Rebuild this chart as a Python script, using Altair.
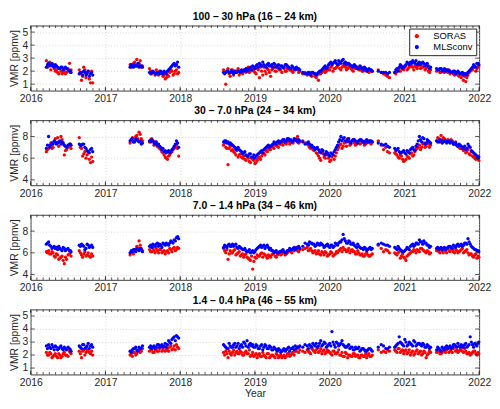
import altair as alt
import pandas as pd

# ---------------- data (decimal years, ppmv) ----------------
# first set of readings
seg1 = [2016.21, 2016.24, 2016.27, 2016.30, 2016.33, 2016.36, 2016.39, 2016.42, 2016.45, 2016.48, 2016.52, 2016.54]
seg2 = [2016.65, 2016.68, 2016.71, 2016.74, 2016.77, 2016.80, 2016.83]
seg3 = [2017.33, 2017.36, 2017.39, 2017.42, 2017.45, 2017.48]
seg4 = [2017.59, 2017.62, 2017.65, 2017.68, 2017.71, 2017.74, 2017.77, 2017.80, 2017.83, 2017.86, 2017.89, 2017.92, 2017.95, 2017.98]
seg5 = [2018.58, 2018.61, 2018.64, 2018.67, 2018.70, 2018.73, 2018.76, 2018.79, 2018.82, 2018.85, 2018.88, 2018.91, 2018.94, 2018.97,
        2019.00, 2019.03, 2019.06, 2019.09, 2019.12, 2019.15, 2019.18, 2019.21, 2019.24, 2019.27, 2019.30, 2019.33, 2019.36, 2019.39,
        2019.42, 2019.45, 2019.48, 2019.51, 2019.54, 2019.57, 2019.60]
seg6 = [2019.64, 2019.70, 2019.73, 2019.76, 2019.79, 2019.82, 2019.85, 2019.88, 2019.91, 2019.94, 2019.97,
        2020.00, 2020.03, 2020.06, 2020.09, 2020.12, 2020.15, 2020.18, 2020.21, 2020.24, 2020.27, 2020.30, 2020.33, 2020.36,
        2020.39, 2020.42, 2020.45, 2020.48, 2020.51, 2020.54, 2020.57]
seg7 = [2020.65, 2020.72, 2020.75, 2020.80]
seg8 = [2020.87, 2020.90, 2020.93, 2020.96, 2020.99, 2021.02, 2021.05, 2021.08, 2021.11, 2021.14, 2021.17, 2021.20,
        2021.23, 2021.26, 2021.29, 2021.32, 2021.35]
seg9 = [2021.43, 2021.46, 2021.49, 2021.52, 2021.55, 2021.58, 2021.61, 2021.64, 2021.67, 2021.70, 2021.73, 2021.76,
        2021.79, 2021.82, 2021.85, 2021.88, 2021.91, 2021.94, 2021.97, 2021.995]
years_a = seg1 + seg2 + seg3 + seg4 + seg5 + seg6 + seg7 + seg8 + seg9

# second set of readings (in between)
segb1 = [2016.225, 2016.255, 2016.285, 2016.315, 2016.345, 2016.375, 2016.405, 2016.435, 2016.465, 2016.50, 2016.53]
segb2 = [2016.665, 2016.695, 2016.725, 2016.755, 2016.785, 2016.815]
segb3 = [2017.345, 2017.375, 2017.405, 2017.435, 2017.465, 2017.495]
segb4 = [2017.605, 2017.635, 2017.665, 2017.695, 2017.725, 2017.755, 2017.785, 2017.815, 2017.845, 2017.875, 2017.905, 2017.935, 2017.965]
segb5 = [2018.595, 2018.625, 2018.655, 2018.685, 2018.715, 2018.745, 2018.775, 2018.805, 2018.835, 2018.865, 2018.895, 2018.925, 2018.955, 2018.985,
         2019.015, 2019.045, 2019.075, 2019.105, 2019.135, 2019.165, 2019.195, 2019.225, 2019.255, 2019.285, 2019.315, 2019.345,
         2019.375, 2019.405, 2019.435, 2019.465, 2019.495, 2019.525, 2019.555, 2019.585]
segb6 = [2019.67, 2019.715, 2019.745, 2019.775, 2019.805, 2019.835, 2019.865, 2019.895, 2019.925, 2019.955, 2019.985,
         2020.015, 2020.045, 2020.075, 2020.105, 2020.135, 2020.165, 2020.195, 2020.225, 2020.255, 2020.285, 2020.315, 2020.345,
         2020.375, 2020.405, 2020.435, 2020.465, 2020.495, 2020.525, 2020.555]
segb7 = [2020.69, 2020.775]
segb8 = [2020.885, 2020.915, 2020.945, 2020.975, 2021.005, 2021.035, 2021.065, 2021.095, 2021.125, 2021.155, 2021.185, 2021.215,
         2021.245, 2021.275, 2021.305, 2021.335]
segb9 = [2021.445, 2021.475, 2021.505, 2021.535, 2021.565, 2021.595, 2021.625, 2021.655, 2021.685, 2021.715, 2021.745, 2021.775,
         2021.805, 2021.835, 2021.865, 2021.895, 2021.925, 2021.955, 2021.985]
years_b = segb1 + segb2 + segb3 + segb4 + segb5 + segb6 + segb7 + segb8 + segb9

# ---- Panel 1: 100 - 30 hPa
p1_mls_a = ([2.3, 2.6, 2.5, 2.4, 2.5, 2.3, 2.2, 2.3, 2.2, 2.2, 2.0, 1.9]
            + [1.8, 1.9, 2.0, 1.7, 2.0, 1.8, 1.7]
            + [2.3, 2.4, 2.5, 2.4, 2.3, 2.4]
            + [1.9, 1.9, 1.9, 1.8, 1.9, 2.0, 1.8, 1.9, 2.0, 2.2, 2.4, 2.6, 2.5, 2.3]
            + [1.9, 1.9, 2.0, 1.9, 1.9, 2.0, 1.9, 2.0, 2.1, 2.0, 2.2, 2.1, 2.3, 2.4, 2.2, 2.5, 2.6, 2.4, 2.5, 2.3,
               2.6, 2.4, 2.3, 2.5, 2.4, 2.2, 2.4, 2.3, 2.5, 2.3, 2.2, 2.3, 2.1, 2.2, 2.1]
            + [1.9, 1.8, 1.8, 1.9, 1.8, 1.7, 1.9, 2.0, 2.2, 2.4, 2.3, 2.6, 2.5, 2.7, 2.6, 2.8, 2.6, 2.9, 2.7, 2.6,
               2.5, 2.4, 2.5, 2.3, 2.2, 2.3, 2.1, 2.2, 2.1, 2.1, 2.0]
            + [2.0, 1.9, 1.9, 1.9]
            + [1.9, 2.2, 2.3, 2.4, 2.3, 2.5, 2.6, 2.7, 2.8, 2.6, 2.5, 2.7, 2.6, 2.6, 2.5, 2.4, 2.3]
            + [2.2, 2.1, 2.2, 2.1, 2.0, 2.1, 2.0, 1.9, 2.0, 1.9, 1.9, 1.8, 1.7, 1.8, 1.9, 2.1, 2.3, 2.4, 2.6, 2.5])
p1_mls_b = ([2.5, 2.4, 2.6, 2.3, 2.4, 2.2, 2.3, 2.1, 2.3, 2.1, 2.0]
            + [1.9, 1.7, 1.9, 1.8, 1.6, 1.9]
            + [2.5, 2.3, 2.4, 2.6, 2.4, 2.3]
            + [1.8, 2.0, 1.8, 1.9, 1.8, 1.9, 2.0, 1.8, 2.1, 2.3, 2.5, 2.4, 2.7]
            + [1.8, 2.0, 1.9, 2.0, 1.8, 1.9, 2.0, 1.9, 2.0, 2.1, 2.0, 2.2, 2.1, 2.3,
               2.4, 2.3, 2.5, 2.7, 2.4, 2.5, 2.4, 2.5, 2.6, 2.3, 2.5, 2.4, 2.3, 2.5, 2.4, 2.2, 2.4, 2.2, 2.3, 2.2]
            + [1.8, 1.9, 1.7, 1.9, 1.8, 1.8, 2.0, 2.1, 2.3, 2.2, 2.5,
               2.7, 2.6, 2.8, 2.5, 2.7, 2.8, 2.6, 2.5, 2.6, 2.4, 2.3, 2.4, 2.2, 2.4, 2.2, 2.3, 2.0, 2.2, 2.1]
            + [1.9, 1.8]
            + [2.1, 2.0, 2.5, 2.2, 2.4, 2.7, 2.5, 2.6, 2.7, 2.8, 2.6, 2.5, 2.7, 2.4, 2.6, 2.2]
            + [2.1, 2.2, 2.0, 2.2, 2.1, 2.0, 1.9, 2.0, 1.8, 2.0, 1.8, 1.9, 1.8, 1.7, 2.0, 2.2, 2.5, 2.3, 2.6])
p1_soras_a = ([2.8, 2.6, 2.1, 2.5, 2.0, 1.9, 2.2, 1.8, 2.0, 1.9, 2.6, 2.1]
              + [2.1, 1.3, 2.3, 1.5, 2.0, 1.1, 1.1]
              + [2.5, 2.4, 2.7, 2.9, 2.6, 2.3]
              + [2.2, 1.8, 1.9, 2.1, 1.7, 1.9, 1.6, 1.4, 1.7, 1.9, 2.0, 1.8, 2.1, 1.9]
              + [2.1, 1.0, 2.2, 1.6, 2.1, 1.9, 2.0, 1.7, 2.0, 2.1, 1.9, 2.3, 2.0, 2.1, 1.9, 2.2, 1.5, 2.0, 2.3, 1.8,
                 2.1, 1.6, 2.2, 2.0, 2.3, 2.1, 1.9, 2.2, 2.0, 2.3, 2.1, 1.9, 2.2, 2.1, 2.0]
              + [1.8, 1.7, 1.9, 1.6, 1.8, 1.5, 1.3, 1.8, 2.0, 1.9, 2.2, 2.1, 2.4, 2.2, 2.3, 2.5, 2.1, 2.4, 2.3, 2.2,
                 2.4, 2.1, 2.3, 2.2, 2.1, 2.3, 2.0, 2.2, 2.0, 2.1, 2.0]
              + [2.1, 1.8, 1.7, 1.5]
              + [1.9, 2.0, 2.2, 2.3, 2.1, 2.4, 2.2, 2.5, 2.3, 2.4, 2.2, 2.5, 2.3, 2.4, 2.2, 2.0, 2.1]
              + [2.0, 2.1, 1.9, 2.0, 2.1, 1.9, 1.8, 1.9, 1.7, 1.8, 1.6, 1.5, 1.3, 1.2, 1.7, 2.0, 2.1, 2.3, 2.2, 2.4])
p1_soras_b = ([2.3, 2.7, 2.4, 2.2, 2.1, 1.8, 2.0, 1.9, 1.8, 2.2, 1.9]
              + [1.8, 1.6, 2.1, 1.9, 1.4, 2.0]
              + [2.3, 2.6, 2.4, 2.5, 2.8, 2.4]
              + [2.0, 1.9, 1.7, 1.8, 2.0, 1.8, 1.7, 1.5, 1.6, 2.1, 1.7, 2.0, 1.8]
              + [1.9, 2.0, 1.8, 2.1, 1.7, 2.0, 2.2, 1.9, 1.8, 2.0, 2.2, 1.9, 2.1, 2.0,
                 1.8, 2.1, 2.3, 1.7, 2.0, 2.2, 1.9, 2.1, 2.3, 2.0, 2.2, 2.1, 2.3, 2.0, 2.2, 2.1, 2.0, 2.1, 2.2, 1.9]
              + [1.9, 1.8, 1.7, 1.9, 1.6, 1.7, 1.8, 1.9, 2.1, 2.0, 2.1,
                 2.3, 2.0, 2.2, 2.4, 2.2, 2.3, 2.5, 2.1, 2.3, 2.2, 2.0, 2.2, 2.3, 2.1, 2.0, 2.2, 2.1, 1.9, 2.0]
              + [1.9, 1.6]
              + [1.8, 2.1, 2.0, 2.2, 2.3, 2.1, 2.3, 2.4, 2.1, 2.3, 2.4, 2.2, 2.3, 2.1, 2.3, 1.9]
              + [2.1, 1.9, 2.0, 1.9, 2.0, 2.1, 1.9, 1.8, 1.9, 1.7, 1.8, 1.7, 1.6, 1.5, 1.9, 2.1, 2.3, 2.0, 2.3])

# ---- Panel 2: 30 - 7.0 hPa
p2_mls_a = ([6.9, 8.0, 7.2, 7.3, 7.5, 7.4, 7.6, 7.5, 7.2, 7.0, 7.3, 7.2]
            + [7.3, 7.2, 7.3, 6.9, 6.6, 6.8, 6.6]
            + [7.6, 7.8, 7.5, 7.7, 7.5, 7.3]
            + [7.6, 7.7, 7.4, 7.5, 7.3, 7.0, 6.9, 6.7, 6.6, 6.5, 6.8, 7.1, 7.6, 7.0]
            + [7.5, 7.6, 7.5, 7.4, 7.2, 7.0, 6.9, 6.8, 6.6, 6.5, 6.3, 6.2, 6.4, 6.1, 6.0, 6.3, 6.5, 6.7, 6.8, 7.0,
               7.2, 7.1, 7.3, 7.4, 7.5, 7.4, 7.6, 7.7, 7.6, 7.8, 7.7, 7.6, 7.7, 7.5, 7.6]
            + [7.5, 7.4, 7.3, 7.2, 7.0, 6.9, 6.8, 6.5, 6.7, 6.3, 6.5, 6.2, 6.4, 6.6, 7.0, 7.5, 8.0, 7.8, 7.6, 7.7,
               7.5, 7.6, 7.7, 7.5, 7.6, 7.7, 7.5, 7.6, 7.5, 7.6, 7.5]
            + [7.4, 7.2, 7.3, 7.0]
            + [6.9, 6.8, 6.6, 6.5, 6.7, 6.4, 6.6, 6.8, 7.0, 6.7, 7.3, 8.0, 7.5, 7.8, 7.4, 7.6, 7.4]
            + [7.6, 7.5, 7.6, 7.5, 7.6, 7.5, 7.4, 7.5, 7.3, 7.2, 7.3, 7.1, 7.0, 6.8, 7.3, 7.0, 6.6, 6.4, 6.2, 6.1])
p2_mls_b = ([7.2, 7.0, 7.4, 7.6, 7.3, 7.5, 7.3, 7.4, 7.1, 7.2, 7.3]
            + [7.2, 7.3, 7.0, 6.7, 6.5, 6.9]
            + [7.7, 7.5, 7.8, 7.6, 7.6, 7.4]
            + [7.5, 7.6, 7.3, 7.2, 7.1, 6.8, 6.6, 6.5, 6.7, 6.6, 6.9, 7.3, 7.4]
            + [7.6, 7.4, 7.3, 7.3, 7.1, 6.8, 7.0, 6.7, 6.4, 6.6, 6.2, 6.4, 6.1, 6.3,
               6.2, 6.4, 6.6, 6.5, 6.9, 7.1, 7.0, 7.2, 7.5, 7.3, 7.6, 7.5, 7.7, 7.5, 7.8, 7.6, 7.5, 7.8, 7.6, 7.7]
            + [7.3, 7.5, 7.1, 7.0, 6.8, 7.0, 6.6, 6.8, 6.4, 6.6, 6.3,
               6.5, 6.3, 6.8, 7.2, 7.7, 7.6, 7.9, 7.5, 7.8, 7.4, 7.7, 7.6, 7.4, 7.7, 7.6, 7.4, 7.7, 7.5, 7.6]
            + [7.3, 7.1]
            + [6.7, 6.9, 6.5, 6.6, 6.5, 6.7, 6.5, 6.9, 6.8, 7.1, 7.6, 7.7, 7.9, 7.3, 7.7, 7.5]
            + [7.5, 7.7, 7.4, 7.6, 7.4, 7.6, 7.5, 7.3, 7.4, 7.1, 7.2, 6.9, 7.1, 6.9, 7.1, 6.7, 6.5, 6.3, 6.0])
p2_soras_a = ([6.6, 6.9, 7.4, 7.0, 7.8, 7.9, 7.5, 7.7, 6.3, 6.8, 7.1, 6.9]
              + [7.9, 6.9, 6.4, 6.0, 6.5, 5.6, 5.7]
              + [7.4, 7.9, 7.6, 8.1, 8.4, 7.8]
              + [7.5, 7.8, 7.2, 7.4, 7.0, 6.8, 6.5, 6.1, 5.9, 6.3, 6.6, 6.9, 7.2, 6.2]
              + [7.2, 7.0, 5.4, 7.1, 6.8, 6.5, 6.7, 6.3, 6.1, 6.2, 5.8, 6.0, 5.6, 5.9, 5.5, 5.8, 6.1, 6.2, 6.5, 6.7,
                 6.9, 6.8, 7.0, 7.2, 7.1, 7.3, 7.4, 7.5, 7.3, 7.6, 7.5, 7.4, 7.7, 8.0, 7.5]
              + [7.6, 7.3, 7.0, 7.1, 6.7, 6.5, 6.2, 5.8, 6.4, 6.0, 6.3, 5.7, 6.1, 5.9, 6.5, 7.0, 7.3, 7.1, 7.5, 7.8,
                 7.2, 7.6, 7.4, 7.3, 7.6, 7.4, 7.5, 7.3, 7.6, 7.4, 7.5]
              + [7.6, 6.8, 7.0, 6.5]
              + [6.5, 6.3, 6.0, 6.2, 5.7, 5.9, 6.1, 6.4, 6.2, 6.6, 6.9, 7.2, 7.0, 7.4, 7.1, 7.3, 7.2]
              + [7.6, 7.8, 8.1, 7.9, 7.6, 7.7, 7.5, 7.6, 7.4, 7.2, 7.0, 6.9, 6.7, 6.5, 6.8, 6.3, 6.2, 6.0, 6.1, 5.8])
p2_soras_b = ([6.8, 7.2, 6.9, 7.5, 7.4, 7.1, 8.0, 7.3, 6.7, 7.0, 7.3]
              + [7.0, 6.2, 6.6, 6.3, 5.9, 6.1]
              + [7.7, 7.5, 8.0, 7.8, 8.2, 7.6]
              + [7.7, 7.6, 7.5, 7.1, 6.9, 6.6, 6.3, 6.0, 6.2, 6.5, 6.8, 7.0, 6.9]
              + [7.4, 6.9, 6.9, 6.7, 6.6, 6.3, 6.1, 6.4, 6.0, 5.9, 6.2, 5.7, 6.0, 5.8,
                 5.6, 6.0, 5.9, 6.4, 6.3, 6.6, 6.8, 7.1, 6.9, 7.2, 7.0, 7.3, 7.2, 7.4, 7.5, 7.3, 7.5, 7.6, 7.8, 7.4]
              + [7.4, 7.2, 6.9, 6.8, 6.9, 6.4, 6.0, 6.6, 6.1, 6.4, 6.0,
                 5.8, 6.3, 6.2, 6.8, 7.2, 6.9, 7.4, 7.1, 7.5, 7.3, 7.7, 7.2, 7.5, 7.3, 7.5, 7.2, 7.4, 7.6, 7.3]
              + [7.2, 6.6]
              + [6.4, 6.1, 6.3, 5.9, 5.8, 6.2, 6.0, 6.5, 6.3, 6.8, 7.0, 6.8, 7.3, 7.0, 7.4, 7.0]
              + [7.9, 7.5, 7.7, 7.8, 7.5, 7.6, 7.7, 7.3, 7.5, 7.1, 6.9, 7.0, 6.8, 6.6, 6.4, 6.6, 6.1, 5.9, 6.2])

# ---- Panel 3: 7.0 - 1.4 hPa
p3_mls_a = ([6.8, 7.0, 6.6, 6.5, 6.4, 6.3, 6.4, 6.2, 6.4, 6.3, 6.2, 6.1]
            + [6.7, 6.8, 6.6, 6.4, 6.7, 6.6, 6.5]
            + [6.0, 6.1, 6.3, 6.4, 6.2, 6.3]
            + [6.6, 6.5, 6.7, 6.8, 6.6, 6.7, 6.9, 6.7, 6.8, 6.9, 7.0, 7.2, 7.4, 7.3]
            + [6.5, 6.6, 6.7, 6.6, 6.8, 6.7, 6.5, 6.6, 6.4, 6.3, 6.2, 6.1, 6.0, 6.2, 6.1, 6.4, 6.6, 6.5, 6.7, 6.6,
               6.5, 6.4, 6.2, 6.1, 6.0, 6.1, 6.2, 6.1, 6.0, 6.2, 6.3, 6.4, 6.3, 6.5, 6.4]
            + [6.6, 6.8, 7.0, 6.9, 6.8, 6.7, 6.8, 6.9, 6.7, 6.6, 6.8, 6.5, 6.7, 6.6, 6.8, 6.9, 7.0, 7.7, 7.1, 6.9,
               7.0, 6.8, 6.7, 6.5, 6.6, 6.4, 6.3, 6.4, 6.3, 6.5, 6.4]
            + [6.8, 6.8, 6.7, 6.6]
            + [6.5, 6.3, 6.4, 6.2, 6.1, 6.3, 6.4, 6.6, 6.8, 6.7, 6.9, 7.2, 7.0, 7.1, 6.9, 6.7, 6.6]
            + [6.4, 6.3, 6.5, 6.4, 6.3, 6.5, 6.6, 6.4, 6.6, 6.7, 6.6, 6.8, 6.7, 6.9, 7.3, 6.8, 6.5, 6.3, 6.2, 6.1])
p3_mls_b = ([6.9, 6.7, 6.4, 6.6, 6.5, 6.6, 6.3, 6.5, 6.2, 6.4, 6.2]
            + [6.6, 6.7, 6.3, 6.8, 6.5, 6.7]
            + [6.2, 6.3, 6.1, 6.3, 6.4, 6.1]
            + [6.7, 6.8, 6.6, 6.9, 6.8, 6.5, 6.8, 6.9, 6.7, 7.1, 6.9, 7.1, 7.5]
            + [6.7, 6.5, 6.8, 6.6, 6.6, 6.8, 6.4, 6.5, 6.3, 6.4, 6.1, 6.3, 6.1, 6.0,
               6.3, 6.5, 6.7, 6.6, 6.4, 6.7, 6.3, 6.2, 6.0, 6.2, 6.0, 6.1, 6.3, 6.0, 6.2, 6.4, 6.3, 6.5, 6.4, 6.6]
            + [6.9, 6.7, 6.9, 6.8, 6.6, 6.9, 6.7, 6.8, 6.5, 6.7, 6.6,
               6.7, 6.5, 6.9, 6.7, 7.0, 7.2, 7.3, 6.9, 7.1, 6.8, 6.9, 6.6, 6.8, 6.5, 6.4, 6.5, 6.2, 6.4, 6.3]
            + [6.9, 6.7]
            + [6.4, 6.6, 6.3, 6.1, 6.2, 6.5, 6.3, 6.7, 6.6, 6.9, 6.8, 7.0, 6.8, 6.9, 6.7, 6.5]
            + [6.5, 6.4, 6.3, 6.5, 6.4, 6.6, 6.5, 6.7, 6.5, 6.8, 6.7, 6.6, 6.9, 6.8, 7.0, 6.6, 6.4, 6.3, 6.2])
p3_soras_a = ([6.1, 6.2, 5.9, 6.0, 5.6, 5.8, 5.5, 5.7, 5.0, 5.4, 5.9, 5.7]
              + [6.2, 5.8, 5.9, 5.7, 6.0, 5.6, 5.7]
              + [5.8, 6.0, 6.3, 6.6, 7.1, 6.4]
              + [6.3, 6.1, 6.2, 6.4, 6.0, 6.3, 6.1, 5.9, 6.2, 6.4, 6.1, 6.5, 6.3, 6.4]
              + [6.4, 6.0, 5.4, 6.2, 6.0, 6.3, 5.9, 6.1, 5.8, 5.6, 5.9, 5.5, 5.3, 4.5, 5.6, 5.8, 5.7, 6.0, 5.9, 5.7,
                 5.8, 5.6, 5.9, 5.7, 5.8, 6.0, 5.9, 6.1, 5.9, 6.2, 6.1, 6.3, 6.4, 6.2, 6.3]
              + [6.3, 6.5, 6.3, 6.2, 6.1, 5.9, 6.2, 5.8, 6.0, 6.1, 5.7, 5.9, 6.0, 5.8, 6.1, 6.2, 6.4, 6.5, 6.3, 6.2,
                 6.0, 6.3, 6.1, 5.9, 6.0, 5.8, 5.7, 5.9, 5.8, 5.7, 5.9]
              + [6.7, 6.1, 6.3, 6.0]
              + [6.0, 5.8, 6.1, 5.7, 5.6, 5.3, 5.8, 6.0, 6.1, 6.2, 6.3, 6.1, 6.4, 6.2, 6.0, 6.1, 6.0]
              + [6.2, 6.1, 6.3, 6.0, 6.2, 6.4, 6.1, 6.3, 6.0, 6.2, 6.1, 6.3, 6.0, 6.2, 6.0, 5.9, 5.7, 5.8, 5.5, 5.6])
p3_soras_b = ([6.0, 5.9, 6.1, 5.7, 5.9, 5.4, 5.6, 5.3, 5.6, 5.8, 6.0]
              + [6.0, 5.6, 6.1, 5.8, 5.7, 5.9]
              + [6.1, 5.9, 6.2, 6.4, 6.7, 6.2]
              + [6.1, 6.4, 6.0, 6.2, 6.3, 6.0, 6.2, 6.1, 6.0, 6.3, 6.4, 6.2, 6.5]
              + [6.2, 6.3, 5.9, 6.0, 6.2, 5.8, 6.0, 5.7, 5.9, 5.8, 5.6, 5.4, 5.7, 5.2,
                 5.5, 5.7, 5.9, 5.6, 5.8, 5.5, 5.7, 5.8, 6.0, 5.6, 5.9, 5.8, 6.0, 5.8, 6.0, 6.2, 6.0, 6.2, 6.5, 6.1]
              + [6.4, 6.2, 6.4, 6.0, 6.2, 6.0, 5.9, 6.1, 5.8, 6.0, 5.8,
                 6.1, 5.7, 5.9, 6.0, 6.3, 6.1, 6.3, 6.1, 6.4, 6.2, 6.1, 5.9, 6.2, 5.8, 5.9, 5.7, 6.0, 5.7, 5.8]
              + [6.4, 6.2]
              + [5.9, 6.0, 5.5, 5.9, 5.5, 5.7, 5.9, 6.1, 6.3, 6.0, 6.2, 6.4, 6.3, 6.1, 6.2, 5.9]
              + [6.3, 6.0, 6.2, 6.3, 6.0, 6.2, 6.4, 6.1, 6.3, 6.0, 6.2, 6.4, 6.1, 6.3, 5.8, 5.9, 5.6, 5.9, 5.7])

# ---- Panel 4: 1.4 - 0.4 hPa
p4_mls_a = ([2.7, 2.8, 2.5, 2.6, 2.7, 2.4, 2.6, 2.5, 2.6, 2.4, 2.5, 2.3]
            + [2.7, 2.5, 2.8, 2.6, 2.9, 2.7, 2.6]
            + [2.3, 2.4, 2.5, 2.4, 2.6, 2.5]
            + [2.6, 2.5, 2.7, 2.6, 2.8, 2.7, 2.6, 2.9, 2.8, 3.0, 3.2, 3.4, 3.5, 3.3]
            + [2.8, 2.6, 2.5, 2.7, 2.6, 2.9, 2.7, 2.5, 2.8, 3.0, 2.7, 2.6, 2.9, 2.8, 2.6, 2.7, 2.5, 2.8, 2.6, 2.7,
               2.5, 2.6, 2.4, 2.5, 2.3, 2.4, 2.3, 2.5, 2.4, 2.6, 2.5, 2.6, 2.7, 2.6, 2.7]
            + [2.6, 2.7, 2.8, 2.6, 2.8, 2.9, 2.7, 3.1, 2.8, 2.9, 2.7, 2.9, 3.8, 2.8, 3.0, 2.7, 2.9, 2.8, 2.6, 2.7,
               2.5, 2.6, 2.4, 2.5, 2.6, 2.4, 2.5, 2.3, 2.4, 2.5, 2.3]
            + [2.6, 2.7, 2.5, 2.6]
            + [2.6, 2.8, 3.4, 2.9, 2.7, 3.0, 2.8, 2.9, 2.7, 3.0, 2.8, 2.9, 2.7, 2.8, 2.6, 2.7, 2.6]
            + [2.4, 2.5, 2.3, 2.5, 2.6, 2.5, 2.7, 2.6, 2.8, 2.6, 2.7, 2.8, 2.6, 2.9, 2.7, 3.4, 2.8, 2.9, 2.7, 3.0])
p4_mls_b = ([2.5, 2.6, 2.8, 2.4, 2.6, 2.5, 2.7, 2.4, 2.5, 2.6, 2.4]
            + [2.6, 2.8, 2.5, 2.7, 2.5, 2.8]
            + [2.2, 2.5, 2.6, 2.3, 2.5, 2.7]
            + [2.7, 2.6, 2.5, 2.8, 2.6, 2.8, 2.7, 2.6, 3.1, 2.9, 3.3, 3.1, 3.4]
            + [2.7, 2.5, 2.9, 2.6, 2.8, 2.6, 2.9, 2.7, 2.6, 2.9, 3.1, 2.8, 2.7, 2.6,
               2.8, 2.5, 2.7, 2.4, 2.8, 2.5, 2.7, 2.4, 2.6, 2.4, 2.5, 2.2, 2.4, 2.3, 2.5, 2.3, 2.5, 2.4, 2.5, 2.6]
            + [2.8, 2.5, 2.7, 2.9, 2.7, 2.6, 2.9, 2.7, 3.0, 2.6, 2.8,
               2.7, 3.0, 2.6, 2.9, 2.8, 3.1, 2.7, 2.6, 2.8, 2.6, 2.4, 2.6, 2.5, 2.3, 2.5, 2.4, 2.3, 2.5, 2.4]
            + [2.8, 2.5]
            + [2.7, 2.9, 3.0, 2.8, 3.2, 2.7, 3.0, 2.8, 3.1, 2.7, 2.9, 2.8, 2.9, 2.6, 2.8, 2.5]
            + [2.6, 2.4, 2.6, 2.4, 2.7, 2.6, 2.5, 2.8, 2.7, 2.9, 2.6, 2.7, 2.8, 2.6, 2.8, 3.0, 2.6, 2.8, 2.9])
p4_soras_a = ([2.2, 2.0, 2.1, 1.9, 2.1, 1.8, 2.0, 1.9, 2.2, 2.0, 2.3, 2.1]
              + [2.3, 1.8, 2.4, 2.2, 2.3, 2.1, 2.0]
              + [2.0, 1.9, 2.2, 2.1, 2.4, 2.3]
              + [2.3, 2.4, 2.2, 2.5, 2.3, 2.6, 2.4, 2.3, 2.5, 2.6, 2.4, 2.7, 2.8, 2.5]
              + [2.2, 2.3, 1.8, 2.1, 2.2, 2.0, 2.3, 2.1, 2.2, 2.0, 2.3, 2.1, 1.9, 2.2, 2.0, 1.8, 2.1, 1.9, 2.0, 1.8,
                 2.1, 1.9, 2.0, 1.8, 2.0, 1.9, 1.8, 2.0, 1.9, 2.1, 2.0, 2.2, 2.3, 2.6, 2.4]
              + [2.3, 2.4, 2.2, 2.5, 2.3, 2.4, 2.2, 2.5, 2.3, 2.1, 2.4, 2.2, 2.0, 2.3, 2.1, 2.4, 2.0, 1.9, 2.2, 1.8,
                 2.0, 1.9, 2.1, 2.0, 1.8, 2.0, 1.9, 2.1, 2.0, 1.9, 2.0]
              + [2.4, 2.3, 2.2, 2.3]
              + [2.4, 2.2, 2.5, 2.3, 2.1, 2.4, 2.2, 2.0, 2.3, 2.1, 2.4, 2.2, 2.0, 2.3, 1.8, 2.1, 2.2]
              + [2.2, 2.3, 2.1, 2.4, 2.2, 2.5, 2.3, 2.2, 2.6, 2.4, 2.3, 2.5, 2.2, 2.3, 2.1, 2.0, 2.2, 2.3, 2.0, 2.1])
p4_soras_b = ([2.0, 2.2, 1.8, 2.0, 1.9, 2.1, 1.8, 2.1, 2.0, 1.9, 2.2]
              + [2.1, 2.3, 2.0, 2.4, 2.2, 2.3]
              + [2.1, 2.2, 2.0, 2.3, 2.2, 2.5]
              + [2.5, 2.2, 2.4, 2.3, 2.5, 2.3, 2.6, 2.4, 2.3, 2.7, 2.5, 2.4, 2.6]
              + [2.0, 2.1, 2.3, 2.0, 2.4, 2.2, 2.1, 2.3, 2.0, 2.2, 2.1, 2.4, 2.0, 1.9,
                 2.1, 2.0, 1.9, 2.2, 1.9, 2.1, 1.8, 2.0, 1.9, 2.1, 1.8, 2.0, 1.9, 1.8, 2.1, 1.9, 2.1, 2.0, 2.3, 2.2]
              + [2.2, 2.3, 2.1, 2.4, 2.2, 2.5, 2.3, 2.1, 2.4, 2.2, 2.3,
                 2.1, 2.3, 2.1, 2.2, 2.0, 2.2, 1.9, 2.1, 2.0, 1.9, 2.1, 1.9, 2.0, 1.8, 2.0, 1.9, 1.8, 2.1, 1.9]
              + [2.2, 2.4]
              + [2.3, 2.5, 2.2, 2.4, 2.3, 2.1, 2.4, 2.2, 2.0, 2.3, 2.1, 2.3, 2.1, 2.2, 2.0, 2.3]
              + [2.3, 2.1, 2.2, 2.3, 2.4, 2.2, 2.4, 2.5, 2.3, 2.2, 2.4, 2.3, 2.5, 2.1, 2.2, 2.1, 2.3, 2.1, 2.2])

titles = ["100 \u2013 30 hPa (16 \u2013 24 km)", "30 \u2013 7.0 hPa (24 \u2013 34 km)",
          "7.0 \u2013 1.4 hPa (34 \u2013 46 km)", "1.4 \u2013 0.4 hPa (46 \u2013 55 km)"]
y_domains = [[0.5, 5.5], [3.5, 9.5], [3.5, 9.5], [0.5, 5.5]]
y_ticks = [[1, 2, 3, 4, 5], [4, 6, 8], [4, 6, 8], [1, 2, 3, 4, 5]]
x_ticks = [2016, 2017, 2018, 2019, 2020, 2021, 2022]
series_names = ["SORAS", "MLSconv"]
series_colors = ["#ff0000", "#0000ff"]
panel_values = [
    (p1_soras_a, p1_soras_b, p1_mls_a, p1_mls_b),
    (p2_soras_a, p2_soras_b, p2_mls_a, p2_mls_b),
    (p3_soras_a, p3_soras_b, p3_mls_a, p3_mls_b),
    (p4_soras_a, p4_soras_b, p4_mls_a, p4_mls_b),
]

# ---------------- layout / style ----------------
W, H = 455, 66
FONT = "Liberation Sans"
AX = "#262626"
month_ticks = pd.DataFrame({"t": [2016 + k / 12 for k in range(73)]})
year_ticks = pd.DataFrame({"t": x_ticks})


def x_enc(field, last):
    return alt.X(f"{field}:Q",
                 scale=alt.Scale(domain=[2016, 2022], nice=False, zero=False),
                 axis=alt.Axis(values=x_ticks, format="d", ticks=False, domain=False,
                               grid=True, gridDash=[1, 2], gridColor="#c8c8c8", gridWidth=0.7,
                               labelFont=FONT, labelFontSize=10.5, labelColor=AX, labelPadding=3,
                               labelFlush=False,
                               titleFont=FONT, titleFontSize=10.5, titleColor=AX,
                               titleFontWeight="normal", titlePadding=1),
                 title="Year" if last else None)


def y_enc(field, i):
    return alt.Y(f"{field}:Q",
                 scale=alt.Scale(domain=y_domains[i], nice=False, zero=False),
                 axis=alt.Axis(values=y_ticks[i], ticks=False, domain=False,
                               grid=True, gridDash=[1, 2], gridColor="#c8c8c8", gridWidth=0.7,
                               labelFont=FONT, labelFontSize=10.5, labelColor=AX, labelPadding=3,
                               labelFlush=False,
                               titleFont=FONT, titleFontSize=10.5, titleColor=AX,
                               titleFontWeight="normal", titlePadding=3),
                 title="VMR [ppmv]")


panels = []
for i in range(4):
    last = i == 3
    s_a, s_b, m_a, m_b = panel_values[i]
    assert len(s_a) == len(years_a) and len(m_a) == len(years_a), (i, len(s_a), len(m_a))
    assert len(s_b) == len(years_b) and len(m_b) == len(years_b), (i, len(s_b), len(m_b))
    yrs = years_a + years_b
    df = pd.DataFrame({
        "year": yrs + yrs,
        "vmr": s_a + s_b + m_a + m_b,
        "series": ["SORAS"] * len(yrs) + ["MLSconv"] * len(yrs),
    })
    legend = None
    if i == 0:
        legend = alt.Legend(orient="top-right", title=None, offset=3, padding=3,
                            strokeColor=AX, fillColor="white", labelFont=FONT,
                            labelFontSize=9.5, labelColor="black", symbolType="circle",
                            symbolSize=18, symbolStrokeWidth=0, rowPadding=0, labelOffset=12)
    pts = alt.Chart(df).mark_circle(size=11, opacity=1).encode(
        x=x_enc("year", last),
        y=y_enc("vmr", i),
        color=alt.Color("series:N", scale=alt.Scale(domain=series_names, range=series_colors),
                        legend=legend),
    )
    ytick_df = pd.DataFrame({"v": y_ticks[i]})
    mt_b = alt.Chart(month_ticks).mark_rule(color=AX, strokeWidth=0.8).encode(
        x=x_enc("t", last), y=alt.value(H), y2=alt.value(H - 2.5))
    mt_t = alt.Chart(month_ticks).mark_rule(color=AX, strokeWidth=0.8).encode(
        x=x_enc("t", last), y=alt.value(0), y2=alt.value(2.5))
    yt_b = alt.Chart(year_ticks).mark_rule(color=AX, strokeWidth=0.8).encode(
        x=x_enc("t", last), y=alt.value(H), y2=alt.value(H - 4))
    yt_t = alt.Chart(year_ticks).mark_rule(color=AX, strokeWidth=0.8).encode(
        x=x_enc("t", last), y=alt.value(0), y2=alt.value(4))
    vt_l = alt.Chart(ytick_df).mark_rule(color=AX, strokeWidth=0.8).encode(
        y=y_enc("v", i), x=alt.value(0), x2=alt.value(4))
    vt_r = alt.Chart(ytick_df).mark_rule(color=AX, strokeWidth=0.8).encode(
        y=y_enc("v", i), x=alt.value(W - 4), x2=alt.value(W))
    layer = alt.layer(pts, mt_b, mt_t, yt_b, yt_t, vt_l, vt_r).properties(
        width=W, height=H,
        title=alt.TitleParams(titles[i], font=FONT, fontSize=10.5, fontWeight="bold",
                              color="black", anchor="middle", offset=3),
    )
    panels.append(layer)

chart = (
    alt.vconcat(*panels, spacing=1)
    .resolve_scale(color="independent")
    .resolve_legend(color="independent")
    .properties(padding={"left": 0, "top": 0, "right": 0, "bottom": 0})
    .configure_view(stroke=AX, strokeWidth=0.9)
)

chart.save("out.html", embed_options={"renderer": "svg", "actions": False})
